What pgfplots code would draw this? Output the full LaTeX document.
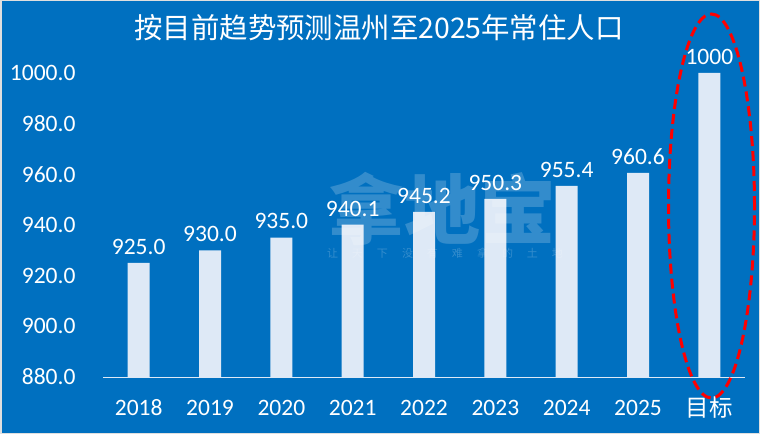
\documentclass[border=0pt]{standalone}
\usepackage{pgfplots}
\pgfplotsset{compat=1.18}
\usepackage{fontspec}
\setmainfont{Carlito}
\newfontfamily\cjk{Noto Sans CJK SC}
\definecolor{bg}{HTML}{0070C0}
\definecolor{barc}{HTML}{DEE9F6}
\begin{document}
\begin{tikzpicture}
\useasboundingbox (0pt,0pt) rectangle (760pt,434pt);
\fill[bg] (0pt,0pt) rectangle (760pt,434pt);
\draw[gray!25, line width=1.5pt] (0.75pt,0.75pt) rectangle (759.25pt,433.25pt);
\node[text=white, font=\cjk\fontsize{28.4}{28.4}\selectfont, anchor=center] at (379pt,406pt) {按目前趋势预测温州至2025年常住人口};
\begin{axis}[
  at={(103pt,57pt)}, anchor=south west,
  width=642pt, height=304pt, scale only axis,
  xmin=-0.5, xmax=8.5, ymin=880, ymax=1000,
  axis x line*=bottom,
  axis y line*=left,
  y axis line style={draw=none},
  x axis line style={draw=barc, line width=0.8pt, -},
  ytick={880,900,...,1000},
  xtick={0,...,8},
  xticklabels={2018,2019,2020,2021,2022,2023,2024,2025,{\cjk 目标}},
  major tick length=0pt,
  ticklabel style={text=white, font=\fontsize{23.5}{23.5}\selectfont},
  xticklabel style={anchor=center, yshift=-31pt},
  yticklabel style={anchor=east, xshift=-24pt},
  yticklabel={\pgfmathprintnumber[fixed, fixed zerofill, precision=1, 1000 sep={}, assume math mode=true]{\tick}},
  clip=false,
  nodes near coords,
  nodes near coords style={text=white, font=\fontsize{23.5}{23.5}\selectfont, yshift=5pt},
  point meta=explicit symbolic,
]
\addplot[ybar, bar width=22pt, fill=barc, draw=none] coordinates {
  (0,925.0) [925.0] (1,930.0) [930.0] (2,935.0) [935.0] (3,940.1) [940.1]
  (4,945.2) [945.2] (5,950.3) [950.3] (6,955.4) [955.4] (7,960.6) [960.6]
  (8,1000) [1000]
};
\end{axis}
% watermark (faint, over the bars as in the reference)
\node[text=white, opacity=0.2, font=\cjk\fontsize{76}{76}\selectfont\bfseries] at (442pt,225pt) {拿地宝};
\node[text=white, opacity=0.2, font=\cjk\fontsize{11}{11}\selectfont] at (445pt,181pt) {让\hspace{14pt}天\hspace{14pt}下\hspace{14pt}没\hspace{14pt}有\hspace{14pt}难\hspace{14pt}拿\hspace{14pt}的\hspace{14pt}土\hspace{14pt}地};
\draw[red, line width=3pt, dash pattern=on 10pt off 5pt] (711.5pt,228pt) ellipse (43pt and 192pt);
\end{tikzpicture}
\end{document}
